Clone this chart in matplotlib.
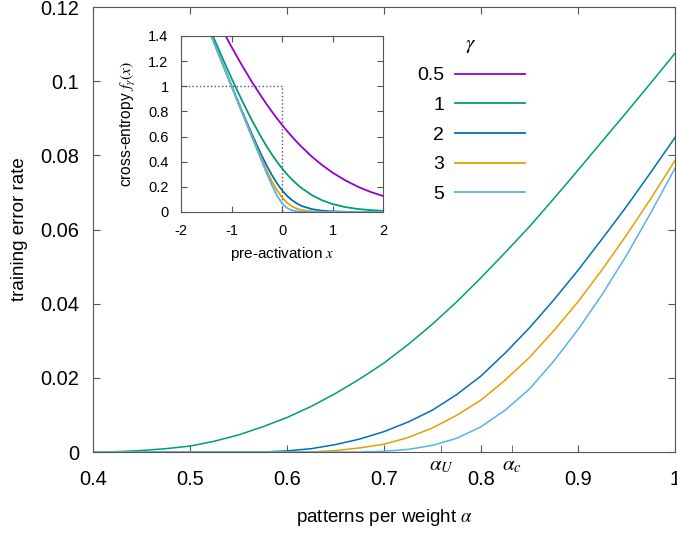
import matplotlib
matplotlib.use('Agg')
import matplotlib.pyplot as plt
from matplotlib import rcParams

rcParams['font.family'] = 'sans-serif'
rcParams['font.sans-serif'] = ['Liberation Sans']
rcParams['mathtext.fontset'] = 'stix'
rcParams['axes.unicode_minus'] = False

# main panel: training error rate vs patterns per weight
alpha = [0.400, 0.425, 0.450, 0.475, 0.500, 0.525, 0.550, 0.575, 0.600, 0.625, 0.650, 0.675, 0.700,
         0.725, 0.750, 0.775, 0.800, 0.825, 0.850, 0.875, 0.900, 0.925, 0.950, 0.975, 1.000]
err_g1 = [0.0, 0.0001, 0.0004, 0.0009, 0.0016, 0.0029, 0.0046, 0.0068, 0.0093, 0.0123, 0.0158, 0.0197,
          0.0240, 0.0290, 0.0345, 0.0405, 0.0470, 0.0538, 0.0608, 0.0683, 0.0760, 0.0838, 0.0916,
          0.0995, 0.1075]
err_g2 = [0.0, 0.0, 0.0, 0.0, 0.0, 0.0, 0.0, 0.0, 0.0003, 0.0009, 0.0020, 0.0035, 0.0055, 0.0081,
          0.0113, 0.0155, 0.0205, 0.0267, 0.0335, 0.0410, 0.0490, 0.0575, 0.0662, 0.0754, 0.0848]
err_g3 = [0.0, 0.0, 0.0, 0.0, 0.0, 0.0, 0.0, 0.0, 0.0, 0.0, 0.0004, 0.0011, 0.0021, 0.0039, 0.0065,
          0.0099, 0.0140, 0.0194, 0.0255, 0.0327, 0.0405, 0.0492, 0.0585, 0.0683, 0.0786]
err_g5 = [0.0, 0.0, 0.0, 0.0, 0.0, 0.0, 0.0, 0.0, 0.0, 0.0, 0.0, 0.0, 0.0002, 0.0007, 0.0018, 0.0037,
          0.0068, 0.0113, 0.0170, 0.0245, 0.0330, 0.0425, 0.0530, 0.0645, 0.0765]

alpha_marks = [0.759, 0.832]
alpha_mark_labels = [r'$\alpha_U$', r'$\alpha_c$']

# inset: cross-entropy loss vs pre-activation
xs = [-1.6, -1.4, -1.2, -1.0, -0.8, -0.6, -0.4, -0.3, -0.2, -0.1, 0.0, 0.1, 0.2, 0.3, 0.4,
      0.6, 0.8, 1.0, 1.25, 1.5, 1.75, 2.0]
f_g05 = [1.784, 1.620, 1.463, 1.313, 1.171, 1.037, 0.913, 0.854, 0.798, 0.744, 0.693, 0.644, 0.598,
         0.554, 0.513, 0.437, 0.371, 0.313, 0.252, 0.201, 0.160, 0.127]
f_g1 = [1.620, 1.429, 1.243, 1.063, 0.892, 0.732, 0.586, 0.519, 0.457, 0.399, 0.347, 0.299, 0.257,
        0.219, 0.186, 0.132, 0.092, 0.063, 0.039, 0.024, 0.015, 0.009]
f_g2 = [1.600, 1.401, 1.202, 1.005, 0.810, 0.622, 0.446, 0.366, 0.293, 0.228, 0.173, 0.128, 0.093,
        0.066, 0.046, 0.022, 0.010, 0.0045, 0.0017, 0.0006, 0.0002, 0.0001]
f_g3 = [1.600, 1.400, 1.200, 1.000, 0.801, 0.605, 0.415, 0.326, 0.244, 0.173, 0.116, 0.073, 0.044,
        0.0255, 0.0145, 0.0045, 0.0014, 0.0004, 0.0, 0.0, 0.0, 0.0]
f_g5 = [1.600, 1.400, 1.200, 1.000, 0.800, 0.600, 0.402, 0.305, 0.213, 0.131, 0.0693, 0.031, 0.0127,
        0.0049, 0.0018, 0.0002, 0.0, 0.0, 0.0, 0.0, 0.0, 0.0]
step_x = [-2, 0, 0, 2]
step_y = [1, 1, 0, 0]

gammas = ['0.5', '1', '2', '3', '5']
colors = ['#9400d3', '#009e73', '#0072b2', '#e69f00', '#56b4e9']
frame = '#555555'

fig = plt.figure(figsize=(6.77, 5.36), dpi=100)
ax = fig.add_axes([0.1374, 0.1567, 0.8596, 0.8302])

for y, c in zip([err_g1, err_g2, err_g3, err_g5], colors[1:]):
    ax.plot(alpha, y, color=c, lw=1.1)

ax.set_xlim(0.4, 1.0)
ax.set_ylim(0, 0.12)
ax.set_xticks([0.4, 0.5, 0.6, 0.7, 0.8, 0.9, 1.0])
ax.set_xticklabels(['0.4', '0.5', '0.6', '0.7', '0.8', '0.9', '1'])
ax.set_yticks([0, 0.02, 0.04, 0.06, 0.08, 0.1, 0.12])
ax.set_yticklabels(['0', '0.02', '0.04', '0.06', '0.08', '0.1', '0.12'])
ax.set_xticks(alpha_marks, minor=True)
ax.set_xticklabels(alpha_mark_labels, minor=True, fontsize=15)
ax.tick_params(which='major', direction='in', top=True, right=True, length=5,
               color=frame, labelsize=14.4)
ax.tick_params(axis='x', which='major', pad=13)
ax.tick_params(axis='y', which='major', pad=10)
ax.tick_params(axis='x', which='minor', direction='in', length=5, color=frame, pad=3)
ax.tick_params(axis='y', which='minor', left=False)
for s in ax.spines.values():
    s.set_color(frame)
ax.set_xlabel(r'patterns per weight $\alpha$', fontsize=13.5, labelpad=13)
ax.set_ylabel('training error rate', fontsize=13.5, labelpad=9)

# inset
ins = fig.add_axes([0.2674, 0.6045, 0.2984, 0.3284])
ins.plot(step_x, step_y, color=frame, lw=1.0, ls=':')
handles = []
for y, c in zip([f_g05, f_g1, f_g2, f_g3, f_g5], colors):
    h, = ins.plot(xs, y, color=c, lw=1.3)
    handles.append(h)
ins.set_xlim(-2, 2)
ins.set_ylim(0, 1.4)
ins.set_xticks([-2, -1, 0, 1, 2])
ins.set_yticks([0, 0.2, 0.4, 0.6, 0.8, 1.0, 1.2, 1.4])
ins.set_yticklabels(['0', '0.2', '0.4', '0.6', '0.8', '1', '1.2', '1.4'])
ins.tick_params(direction='in', top=True, right=True, length=4, color=frame, labelsize=10.5)
ins.tick_params(axis='x', pad=9)
ins.tick_params(axis='y', pad=9)
for s in ins.spines.values():
    s.set_color(frame)
ins.set_xlabel(r'pre-activation $x$', fontsize=11, labelpad=5)
ins.set_ylabel(r'cross-entropy $f_\gamma(x)$', fontsize=11.2, labelpad=7)

leg = ax.legend(handles, gammas, title=r'$\gamma$', loc='upper right',
                bbox_to_anchor=(0.742, 0.94), frameon=False, markerfirst=False,
                fontsize=14, title_fontsize=15, handlelength=3.6, handletextpad=0.55,
                labelspacing=0.62, borderpad=0, borderaxespad=0)

fig.savefig('out.png', dpi=100)
